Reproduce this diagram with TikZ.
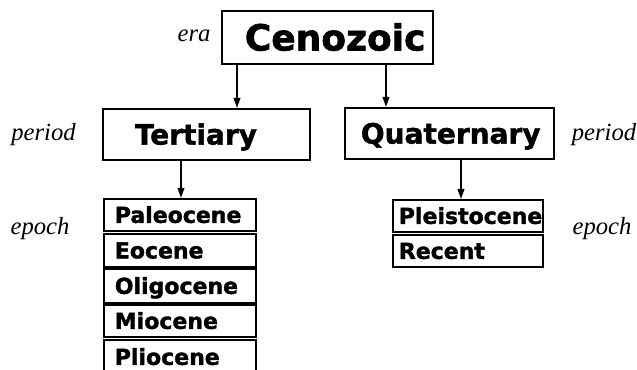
\documentclass[tikz,border=0pt]{standalone}
\usepackage{fontspec}
\setmainfont{Liberation Serif}
\setsansfont{DejaVu Sans}[BoldFeatures={FakeBold=1.6}]
\usetikzlibrary{arrows.meta}
\newdimen\px \px=0.75pt
\newcommand{\bt}[3]{\makebox[#1\px][l]{\hspace*{#2\px}#3}}
\begin{document}
\begin{tikzpicture}[x=0.75pt,y=-0.75pt,
  box/.style={draw, line width=1.3pt, inner sep=0pt, anchor=north west},
  erafont/.style={font=\sffamily\bfseries\fontsize{27}{27}\selectfont, text height=19.7pt, text depth=0pt},
  perfont/.style={font=\sffamily\bfseries\fontsize{21}{21}\selectfont, text height=15.3pt, text depth=0pt},
  epfont/.style={font=\sffamily\bfseries\fontsize{16.5}{16.5}\selectfont, text height=12pt, text depth=0pt},
  lab/.style={font=\itshape\fontsize{18.5}{18.5}\selectfont, inner sep=0pt, anchor=base},
  arr/.style={line width=1.2pt, -{Triangle[length=7.5pt,width=5pt]}}
]
\useasboundingbox (0,0) rectangle (637,370);

% era
\node[box, erafont, minimum height=53\px] (ceno) at (221,10) {\bt{211}{23}{Cenozoic}};
% periods
\node[box, perfont, minimum height=51\px] (tert) at (102,108) {\bt{207}{32}{Tertiary}};
\node[box, perfont, minimum height=51\px] (quat) at (344,107) {\bt{209}{16}{Quaternary}};
% epochs (Tertiary)
\node[box, epfont, minimum height=32\px] (paleo) at (103,198) {\bt{152}{11}{Paleocene}};
\node[box, epfont, minimum height=33\px] (eo) at (103,233) {\bt{152}{11}{Eocene}};
\node[box, epfont, minimum height=34\px] (oligo) at (103,268) {\bt{152}{11}{Oligocene}};
\node[box, epfont, minimum height=32\px] (mio) at (103,304) {\bt{152}{11}{Miocene}};
\node[box, epfont, minimum height=34\px] (plio) at (103,339) {\bt{152}{11}{Pliocene}};
% epochs (Quaternary)
\node[box, epfont, minimum height=32\px] (pleis) at (392,199) {\bt{150}{6}{Pleistocene}};
\node[box, epfont, minimum height=32\px] (rec) at (392,234) {\bt{150}{6}{Recent}};

% labels
\node[lab] (lera) at (194,42) {era};
\node[lab] (lperl) at (43.5,141) {period};
\node[lab] (lepl) at (40,235) {epoch};
\node[lab] (lperr) at (604,141) {period};
\node[lab] (lepr) at (602,235) {epoch};

% arrows
\coordinate (a1) at (237,0);
\coordinate (a2) at (386,0);
\coordinate (a3) at (181,0);
\coordinate (a4) at (461,0);
\draw[arr] (ceno.south -| a1) -- (tert.north -| a1);
\draw[arr] (ceno.south -| a2) -- (quat.north -| a2);
\draw[arr] (tert.south -| a3) -- (paleo.north -| a3);
\draw[arr] (quat.south -| a4) -- (pleis.north -| a4);
\end{tikzpicture}
\end{document}
